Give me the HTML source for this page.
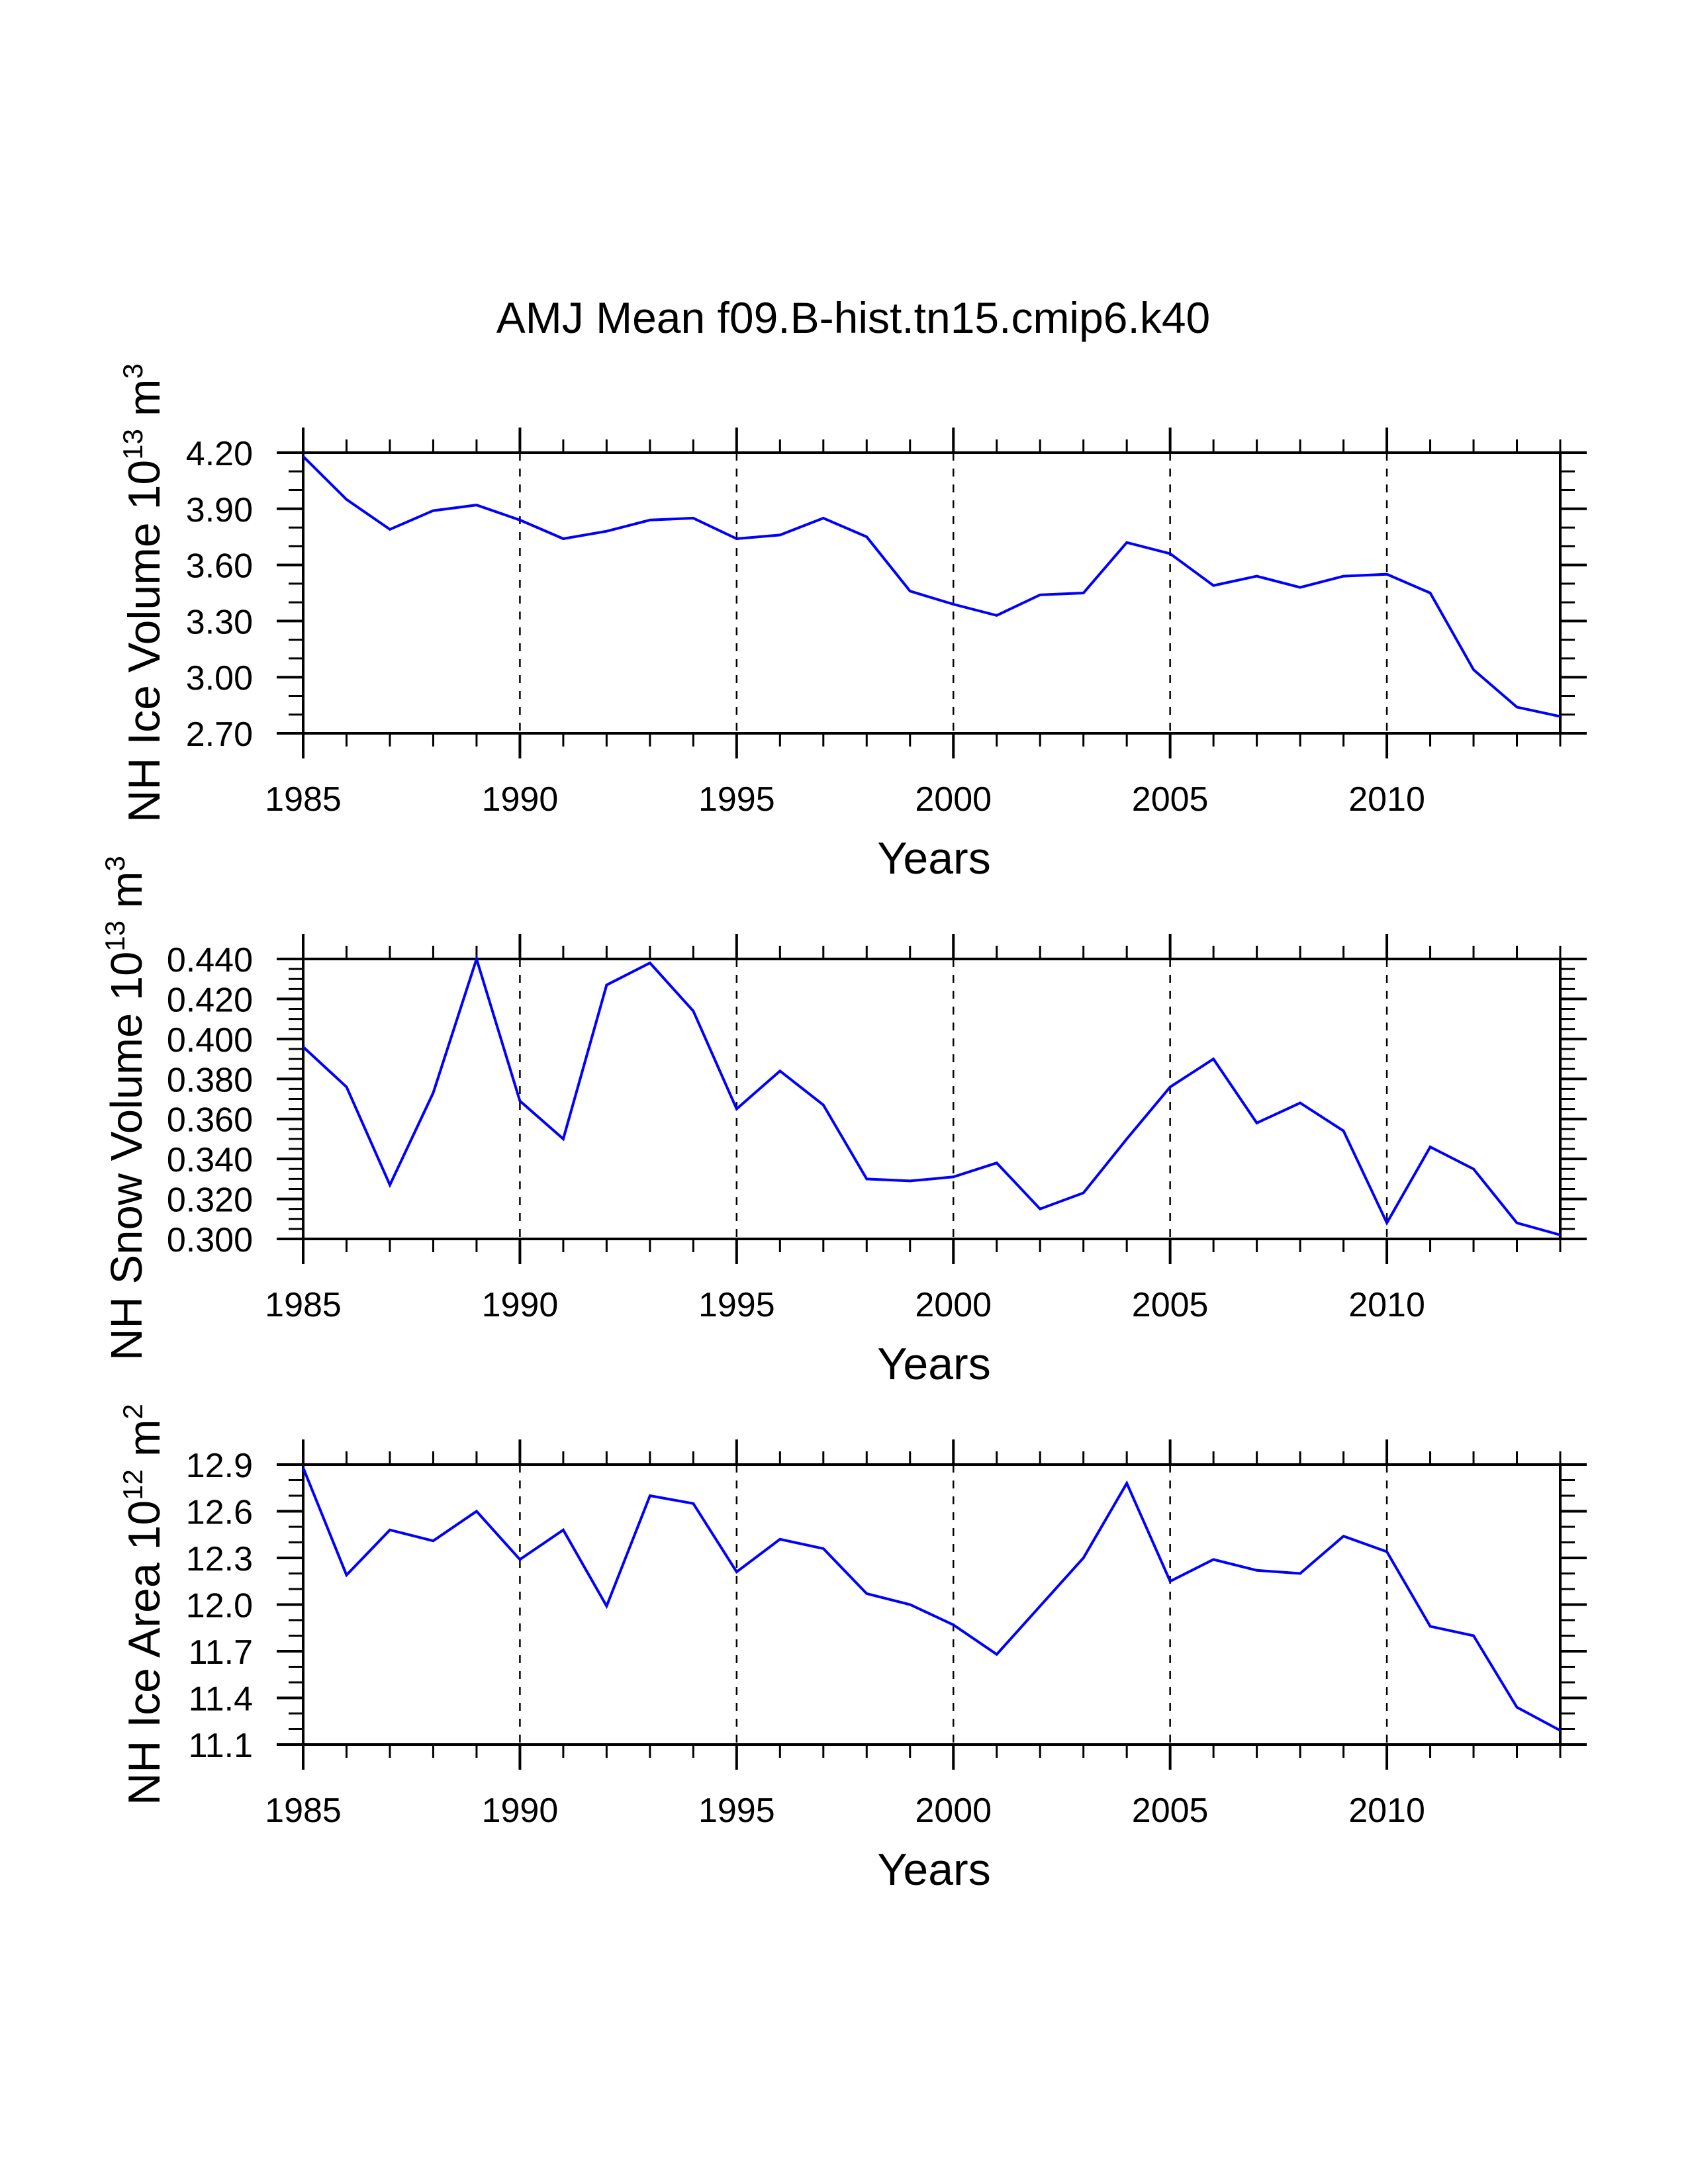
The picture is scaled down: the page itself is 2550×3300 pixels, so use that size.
<!DOCTYPE html>
<html><head><meta charset="utf-8"><style>
html,body{margin:0;padding:0;background:#fff;}
svg{display:block;font-family:"Liberation Sans",Arial,sans-serif;}
</style></head>
<body>
<svg id="chart" width="2550" height="3300" viewBox="0 0 2550 3300" xmlns="http://www.w3.org/2000/svg">
<rect width="2550" height="3300" fill="#fff"/>
<text x="1289" y="503" font-size="66" text-anchor="middle">AMJ Mean f09.B-hist.tn15.cmip6.k40</text>
</svg>
<script>
const years = [1985,1986,1987,1988,1989,1990,1991,1992,1993,1994,1995,1996,1997,1998,1999,2000,2001,2002,2003,2004,2005,2006,2007,2008,2009,2010,2011,2012,2013,2014];
const iceVolume = [4.18,3.95,3.79,3.89,3.92,3.84,3.74,3.78,3.84,3.85,3.74,3.76,3.85,3.75,3.46,3.39,3.33,3.44,3.45,3.72,3.66,3.49,3.54,3.48,3.54,3.55,3.45,3.04,2.84,2.79];
const snowVolume = [0.396,0.376,0.327,0.373,0.440,0.369,0.350,0.427,0.438,0.414,0.365,0.384,0.367,0.330,0.329,0.331,0.338,0.315,0.323,0.350,0.376,0.390,0.358,0.368,0.354,0.308,0.346,0.335,0.308,0.302];
const iceArea = [12.88,12.19,12.48,12.41,12.60,12.29,12.48,11.99,12.70,12.65,12.21,12.42,12.36,12.07,12.00,11.87,11.68,11.99,12.30,12.78,12.15,12.29,12.22,12.20,12.44,12.34,11.86,11.80,11.34,11.19];
const xTickLabels = [1985,1990,1995,2000,2005,2010];
const iceVolumeTicks = ["2.70","3.00","3.30","3.60","3.90","4.20"];
const snowVolumeTicks = ["0.300","0.320","0.340","0.360","0.380","0.400","0.420","0.440"];
const iceAreaTicks = ["11.1","11.4","11.7","12.0","12.3","12.6","12.9"];

const NS = "http://www.w3.org/2000/svg";
const svg = document.getElementById('chart');
function mk(tag, attrs, parent){const e=document.createElementNS(NS,tag);for(const k in attrs)e.setAttribute(k,attrs[k]);(parent||svg).appendChild(e);return e;}

const X0 = 458, X1 = 2357;
function xScale(yr){return X0 + (yr - years[0])/(years[years.length-1]-years[0])*(X1-X0);}

const panels = [
  {key:'ice-volume', top:684, bot:1108, vmin:2.70, vmax:4.20, minorStep:0.1, ticks:iceVolumeTicks, data:iceVolume, title:"NH Ice Volume 10", exp1:"13", unit:" m", exp2:"3", fs:68, tx:241, ty:0},
  {key:'snow-volume', top:1449, bot:1872, vmin:0.300, vmax:0.440, minorStep:0.005, ticks:snowVolumeTicks, data:snowVolume, title:"NH Snow Volume 10", exp1:"13", unit:" m", exp2:"3", fs:67, tx:214, ty:14},
  {key:'ice-area', top:2213, bot:2636, vmin:11.1, vmax:12.9, minorStep:0.1, ticks:iceAreaTicks, data:iceArea, title:"NH Ice Area 10", exp1:"12", unit:" m", exp2:"2", fs:68, tx:241, ty:0}
];

panels.forEach(p=>{
  const g = mk('g',{});
  
  
  const yS = v => p.bot - (v - p.vmin)/(p.vmax - p.vmin)*(p.bot - p.top);
  xTickLabels.slice(1).forEach(yr=>{
    const l = mk('line',{x1:xScale(yr),x2:xScale(yr),y1:p.top,y2:p.bot,stroke:'#000','stroke-width':2.5,'stroke-dasharray':'12,12'},g);
    
    
  });
  years.forEach(yr=>{
    const major = xTickLabels.includes(yr);
    const len = major?38:20;
    const x = xScale(yr);
    mk('line',{x1:x,x2:x,y1:p.top-len,y2:p.top,stroke:'#000','stroke-width':major?4:3},g);
    mk('line',{x1:x,x2:x,y1:p.bot,y2:p.bot+len,stroke:'#000','stroke-width':major?4:3},g);
  });
  const nMinor = Math.round((p.vmax-p.vmin)/p.minorStep);
  const perMajor = Math.round(nMinor/(p.ticks.length-1));
  for(let i=0;i<=nMinor;i++){
    const v = p.vmin + i*p.minorStep;
    const major = i%perMajor===0;
    const len = major?40:22;
    const y = yS(v);
    mk('line',{x1:X0-len,x2:X0,y1:y,y2:y,stroke:'#000','stroke-width':major?4:3},g);
    mk('line',{x1:X1,x2:X1+len,y1:y,y2:y,stroke:'#000','stroke-width':major?4:3},g);
  }
  const fr = mk('rect',{x:X0,y:p.top,width:X1-X0,height:p.bot-p.top,fill:'none',stroke:'#000','stroke-width':4},g);
  
  
  p.ticks.forEach((t,i)=>{
    const v = p.vmin + i*(p.vmax-p.vmin)/(p.ticks.length-1);
    const tx = mk('text',{x:382,y:yS(v)+19,'font-size':52,'text-anchor':'end'},g);
    tx.textContent = t;
    
    
  });
  xTickLabels.forEach(yr=>{
    const tx = mk('text',{x:xScale(yr),y:p.bot+117,'font-size':52,'text-anchor':'middle'},g);
    tx.textContent = yr;
    
    
  });
  const xt = mk('text',{x:1411,y:p.bot+212,'font-size':68,'text-anchor':'middle'},g);
  xt.textContent = 'Years';
  
  
  const cy = (p.top+p.bot)/2 + p.ty;
  const yt = mk('text',{x:0,y:0,'font-size':p.fs,'text-anchor':'middle',transform:'translate('+p.tx+','+cy+') rotate(-90)'},g);
  
  
  const t1 = mk('tspan',{},yt); t1.textContent = p.title;
  const t2 = mk('tspan',{dy:-26,'font-size':42},yt); t2.textContent = p.exp1;
  const t3 = mk('tspan',{dy:26},yt); t3.textContent = p.unit;
  const t4 = mk('tspan',{dy:-26,'font-size':42},yt); t4.textContent = p.exp2;
  const pts = p.data.map((v,i)=>xScale(years[i]).toFixed(1)+','+yS(v).toFixed(1)).join(' ');
  const pl = mk('polyline',{points:pts,fill:'none',stroke:'#0000ff','stroke-width':4,'stroke-linejoin':'miter'},g);
  
  
});
</script>
</body></html>
